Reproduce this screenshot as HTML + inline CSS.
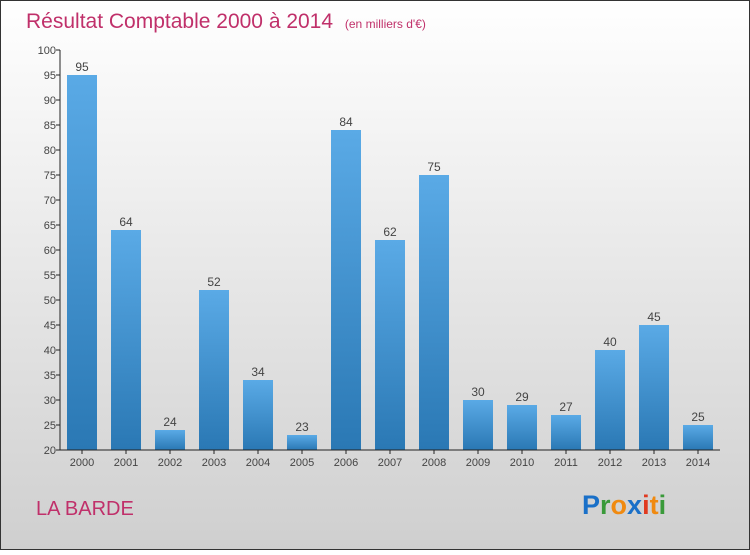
<!DOCTYPE html>
<html><head><meta charset="utf-8"><style>
html,body{margin:0;padding:0}
body{width:750px;height:550px;overflow:hidden;font-family:"Liberation Sans",sans-serif}
</style></head><body>
<svg width="750" height="550" xmlns="http://www.w3.org/2000/svg">
<defs>
<linearGradient id="bg" x1="0" y1="0" x2="0" y2="1"><stop offset="0" stop-color="#ffffff"/><stop offset="1" stop-color="#cfcfcf"/></linearGradient>
<linearGradient id="bar" x1="0" y1="0" x2="0" y2="1"><stop offset="0" stop-color="#5aaae6"/><stop offset="1" stop-color="#2a78b4"/></linearGradient>
</defs>
<rect x="0.5" y="0.5" width="749" height="549" fill="url(#bg)" stroke="#333"/>
<text x="26" y="28" font-size="21" fill="#c0306a">Résultat Comptable 2000 à 2014 <tspan font-size="12" dx="6">(en milliers d'€)</tspan></text>
<g id="yaxis"></g>
<g id="bars"></g>
<g id="xaxis"></g>
<text x="36" y="515" font-size="20" fill="#c0306a">LA BARDE</text>
<text x="582" y="514" font-size="27" font-weight="bold"><tspan fill="#1a70c8">P</tspan><tspan fill="#3a9a3a">r</tspan><tspan fill="#f08a10">o</tspan><tspan fill="#1a70c8">x</tspan><tspan fill="#e03a20">i</tspan><tspan fill="#f08a10">t</tspan><tspan fill="#3a9a3a">i</tspan></text>
</svg>
<script>
const years=["2000","2001","2002","2003","2004","2005","2006","2007","2008","2009","2010","2011","2012","2013","2014"];
const values=[95,64,24,52,34,23,84,62,75,30,29,27,40,45,25];
const yTicks=[20,25,30,35,40,45,50,55,60,65,70,75,80,85,90,95,100];
const NS="http://www.w3.org/2000/svg";
const y=v=>450-(v-20)*5;
const x=i=>82+i*44;
function mk(t,a,p,txt){const e=document.createElementNS(NS,t);for(const k in a)e.setAttribute(k,a[k]);if(txt!==undefined)e.textContent=txt;p.appendChild(e);return e;}
const ya=document.getElementById('yaxis'),ba=document.getElementById('bars'),xa=document.getElementById('xaxis');
mk('line',{x1:60,y1:50,x2:60,y2:450,stroke:'#222'},ya);
yTicks.forEach(t=>{
 const l=mk('line',{x1:56,y1:y(t),x2:60,y2:y(t),stroke:'#222'},ya);
 
 
 const tx=mk('text',{x:56,y:y(t)+4,'text-anchor':'end','font-size':11,fill:'#444'},ya,t);
 
 
});
values.forEach((v,i)=>{
 const r=mk('rect',{x:x(i)-15,y:y(v),width:30,height:450-y(v),fill:'url(#bar)'},ba);
 
 
 const t=mk('text',{x:x(i),y:y(v)-4,'text-anchor':'middle','font-size':12,fill:'#444'},ba,v);
 
 
});
mk('line',{x1:60,y1:450,x2:720,y2:450,stroke:'#222'},xa);
years.forEach((yr,i)=>{
 mk('line',{x1:x(i),y1:450,x2:x(i),y2:454,stroke:'#222'},xa);
 const t=mk('text',{x:x(i),y:466,'text-anchor':'middle','font-size':11,fill:'#444'},xa,yr);
 
 
});
</script>
</body></html>
